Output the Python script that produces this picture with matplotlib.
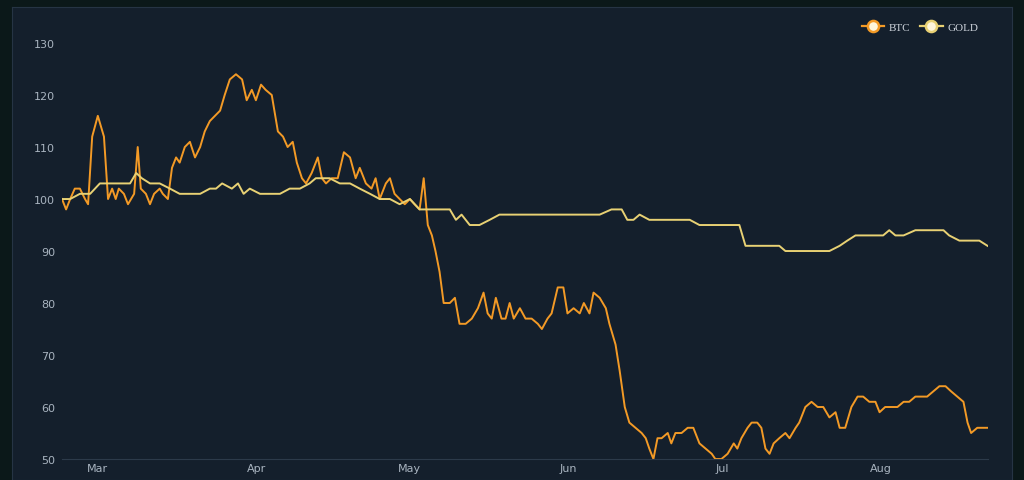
import numpy as np
import pandas as pd
import matplotlib
matplotlib.use('Agg')
import matplotlib.pyplot as plt
from matplotlib.lines import Line2D
import matplotlib.dates as mdates

start = pd.Timestamp('2022-02-22')

# days since start, normalised price (start = 100)
btc_days = [0, 0.8, 1.6, 2.5, 3.5, 4.5, 5.1, 5.9, 7.0, 8.2, 9.0, 9.8, 10.5, 11.1, 12.1, 12.9, 14.1, 14.8,
            15.4, 16.4, 17.2, 18.0, 19.1, 19.7, 20.7, 21.5, 22.3, 23.0, 24.0, 25.0, 26.0, 27.0, 27.9, 28.9,
            29.9, 30.9, 31.8, 32.8, 34.0, 35.2, 36.1, 37.1, 37.9, 38.9, 39.8, 41.0, 42.2, 43.2, 44.1, 45.1,
            45.9, 46.9, 47.7, 48.8, 50.0, 50.8, 51.6, 52.7, 53.9, 55.1, 56.3, 57.4, 58.2, 59.4, 60.5, 61.3,
            62.1, 63.3, 64.1, 65.0, 66.0, 67.0, 68.0, 68.9, 69.9, 70.7, 71.5, 72.3, 73.0, 73.8, 74.6, 75.8,
            76.8, 77.7, 78.9, 80.1, 81.3, 82.4, 83.2, 84.0, 84.8, 85.9, 86.7, 87.5, 88.3, 89.5, 90.6, 91.8,
            93.0, 93.8, 94.9, 95.7, 96.9, 98.0, 98.8, 100.0, 101.2, 102.0, 103.1, 103.9, 105.1, 106.3, 107.0,
            108.2, 109.0, 110.0, 110.9, 112.1, 113.3, 114.1, 114.8, 115.6, 116.4, 117.2, 118.4, 119.1, 119.9,
            121.1, 122.3, 123.4, 124.6, 125.8, 127.0, 127.7, 128.9, 130.1, 131.3, 132.0, 132.8, 134.0, 134.8,
            135.9, 136.7, 137.5, 138.3, 139.1, 140.2, 141.4, 142.2, 143.4, 144.1, 145.3, 146.5, 147.7, 148.8,
            150.0, 151.2, 152.0, 153.1, 154.3, 155.5, 156.6, 157.8, 159.0, 159.8, 160.9, 162.1, 163.3, 164.5,
            165.6, 166.8, 168.0, 169.1, 170.3, 171.5, 172.7, 173.8, 175.0, 176.2, 177.0, 177.7, 178.9, 180.1, 180.9]
btc_vals = [100, 98, 100, 102, 102, 100, 99, 112, 116, 112, 100, 102, 100, 102, 101, 99, 101, 110,
            102, 101, 99, 101, 102, 101, 100, 106, 108, 107, 110, 111, 108, 110, 113, 115,
            116, 117, 120, 123, 124, 123, 119, 121, 119, 122, 121, 120, 113, 112, 110, 111,
            107, 104, 103, 105, 108, 104, 103, 104, 104, 109, 108, 104, 106, 103, 102, 104,
            100, 103, 104, 101, 100, 99, 100, 99, 98, 104, 95, 93, 90, 86, 80, 80,
            81, 76, 76, 77, 79, 82, 78, 77, 81, 77, 77, 80, 77, 79, 77, 77,
            76, 75, 77, 78, 83, 83, 78, 79, 78, 80, 78, 82, 81, 79, 76,
            72, 67, 60, 57, 56, 55, 54, 52, 50, 54, 54, 55, 53, 55,
            55, 56, 56, 53, 52, 51, 50, 50, 51, 53, 52, 54, 56, 57,
            57, 56, 52, 51, 53, 54, 55, 54, 56, 57, 60, 61, 60, 60,
            58, 59, 56, 56, 60, 62, 62, 61, 61, 59, 60, 60, 60, 61,
            61, 62, 62, 62, 63, 64, 64, 63, 62, 61, 57, 55, 56, 56, 56]

gold_days = [0, 1.6, 3.5, 5.5, 7.4, 9.4, 11.3, 13.3, 14.5, 15.6, 17.2, 19.1, 21.1, 23.0, 25.0, 27.0, 28.9,
             30.1, 31.3, 33.2, 34.4, 35.5, 36.7, 38.7, 40.6, 42.6, 44.5, 46.5, 48.4, 49.6, 52.3, 54.3, 56.3,
             58.2, 60.2, 62.1, 64.1, 66.0, 68.0, 69.9, 71.9, 73.8, 75.8, 77.0, 78.1, 79.7, 81.6, 83.6, 85.5,
             87.5, 89.5, 91.4, 93.4, 94.9, 96.5, 98.4, 100.4, 102.0, 103.5, 105.1, 107.4, 109.4, 110.5, 111.7,
             112.9, 114.8, 116.8, 118.8, 120.7, 122.7, 124.6, 126.6, 130.5, 132.4, 133.6, 135.5, 138.3, 140.2,
             141.4, 144.1, 146.5, 148.0, 150.0, 152.0, 153.5, 155.1, 157.0, 159.0, 160.5, 161.7, 162.9, 164.5,
             166.8, 169.5, 172.3, 173.4, 175.4, 177.3, 179.3, 180.9]
gold_vals = [100, 100, 101, 101, 103, 103, 103, 103, 105, 104, 103, 103, 102, 101, 101, 101, 102,
             102, 103, 102, 103, 101, 102, 101, 101, 101, 102, 102, 103, 104, 104, 103, 103,
             102, 101, 100, 100, 99, 100, 98, 98, 98, 98, 96, 97, 95, 95, 96, 97,
             97, 97, 97, 97, 97, 97, 97, 97, 97, 97, 97, 98, 98, 96, 96,
             97, 96, 96, 96, 96, 96, 95, 95, 95, 95, 91, 91, 91, 91,
             90, 90, 90, 90, 90, 91, 92, 93, 93, 93, 93, 94, 93, 93,
             94, 94, 94, 93, 92, 92, 92, 91]

yticks = [50, 60, 70, 80, 90, 100, 110, 120, 130]

btc_color = '#f39a26'
gold_color = '#e8d174'
text_color = '#a9b4c0'

fig = plt.figure(figsize=(10.24, 4.81), dpi=100, facecolor='#0b1819')
bg = fig.add_axes([12 / 1024, 0, 1000 / 1024, 1 - 8 / 481], zorder=-5)
bg.set_facecolor('#141f2c')
bg.set_xticks([]); bg.set_yticks([])
for s in bg.spines.values():
    s.set_color('#263444')

ax = fig.add_axes([62 / 1024, 21 / 481, 926 / 1024, 430 / 481], zorder=1)
ax.set_facecolor('none')

btc_dates = start + pd.to_timedelta(btc_days, unit='D')
gold_dates = start + pd.to_timedelta(gold_days, unit='D')
ax.plot(btc_dates, btc_vals, color=btc_color, lw=1.4, solid_joinstyle='round')
ax.plot(gold_dates, gold_vals, color=gold_color, lw=1.4, solid_joinstyle='round')

ax.set_xlim(start, start + pd.Timedelta(days=181))
ax.set_ylim(50, 132.7)
ax.set_yticks(yticks)
ax.xaxis.set_major_locator(mdates.MonthLocator())
ax.xaxis.set_major_formatter(mdates.DateFormatter('%b'))
ax.tick_params(colors=text_color, labelsize=8, length=0)
ax.tick_params(axis='y', pad=5)
ax.tick_params(axis='x', pad=3)
for s in ['top', 'right', 'left']:
    ax.spines[s].set_visible(False)
ax.spines['bottom'].set_color('#2c3a4a')

handles = [Line2D([], [], color=c, lw=1.6, marker='o', markersize=8, markerfacecolor='#fff6dc',
                  markeredgecolor=c, markeredgewidth=1.8) for c in (btc_color, gold_color)]
leg = ax.legend(handles, ['BTC', 'GOLD'], loc='upper right', bbox_to_anchor=(1.0, 1.04), ncol=2,
                frameon=False, handlelength=2.0, columnspacing=0.9, handletextpad=0.4,
                prop={'family': 'Liberation Serif', 'size': 8})
for t in leg.get_texts():
    t.set_color('#d0d6de')

fig.savefig('out.png', facecolor=fig.get_facecolor())
